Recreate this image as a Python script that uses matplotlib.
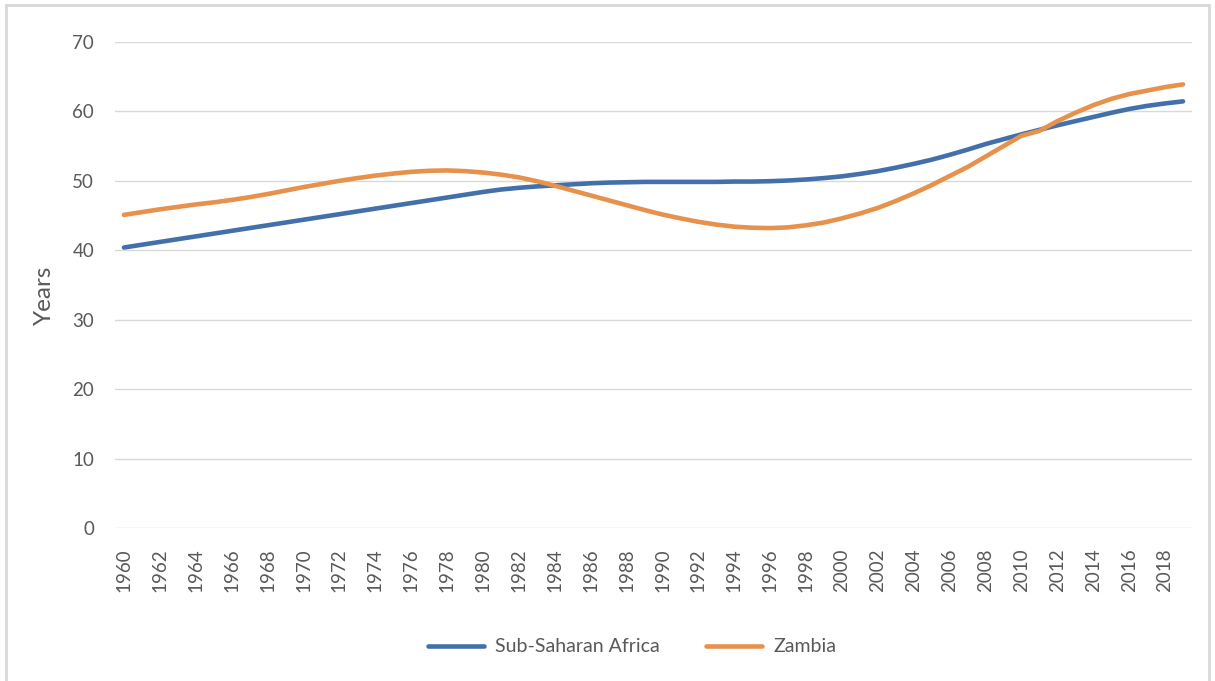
import matplotlib
matplotlib.use("Agg")
import matplotlib.pyplot as plt
from matplotlib.lines import Line2D

years = list(range(1960, 2020))

ssa = [40.4, 40.8, 41.2, 41.6, 42.0, 42.4, 42.8, 43.2, 43.6, 44.0,
       44.4, 44.8, 45.2, 45.6, 46.0, 46.4, 46.8, 47.2, 47.6, 48.0,
       48.4, 48.75, 49.0, 49.2, 49.35, 49.5, 49.65, 49.75, 49.8, 49.85,
       49.85, 49.85, 49.85, 49.85, 49.9, 49.9, 49.95, 50.05, 50.2, 50.4,
       50.65, 51.0, 51.4, 51.9, 52.45, 53.05, 53.75, 54.5, 55.3, 56.0,
       56.7, 57.35, 58.0, 58.6, 59.2, 59.8, 60.35, 60.8, 61.15, 61.45]

zambia = [45.1, 45.5, 45.9, 46.25, 46.6, 46.9, 47.25, 47.65, 48.1, 48.6,
          49.1, 49.55, 50.0, 50.4, 50.75, 51.05, 51.3, 51.45, 51.5, 51.4,
          51.2, 50.9, 50.5, 49.95, 49.3, 48.6, 47.9, 47.2, 46.5, 45.8,
          45.15, 44.6, 44.1, 43.7, 43.4, 43.25, 43.2, 43.3, 43.6, 44.0,
          44.6, 45.3, 46.1, 47.1, 48.2, 49.4, 50.7, 52.0, 53.5, 55.0,
          56.5, 57.2, 58.6, 59.8, 60.9, 61.8, 62.5, 63.0, 63.5, 63.9]

series_names = ["Sub-Saharan Africa", "Zambia"]
y_ticks = [0, 10, 20, 30, 40, 50, 60, 70]
x_tick_labels = [str(y) for y in years[::2]]

plt.rcParams['font.family'] = ['Lato', 'DejaVu Sans']
gray = '#595959'
grid = '#d9d9d9'

fig = plt.figure(figsize=(12.15, 6.81), dpi=100)
ax = fig.add_axes([115/1215, 1-528/681, (1192-115)/1215, (528-42)/681])

idx = list(range(len(years)))
ax.plot(idx, ssa, color='#4370AB', lw=3.3, solid_capstyle='round', label=series_names[0], zorder=3)
ax.plot(idx, zambia, color='#E6914C', lw=3.3, solid_capstyle='round', label=series_names[1], zorder=4)

ax.set_xlim(-0.5, len(years) - 0.5)
ax.set_ylim(0, 70)
ax.set_yticks(y_ticks)
ax.set_yticklabels([str(v) for v in y_ticks])
ax.set_xticks(idx[::2])
ax.set_xticklabels(x_tick_labels, rotation=90)
ax.tick_params(axis='both', length=0, labelsize=13.5, labelcolor=gray)
ax.tick_params(axis='y', pad=15)
ax.tick_params(axis='x', pad=15)
for s in ax.spines.values():
    s.set_visible(False)
ax.grid(axis='y', color=grid, lw=1.0)
ax.set_axisbelow(True)

fig.text(44/1215, 1-295/681, "Years", rotation=90, ha='center', va='center',
         fontsize=17.5, color=gray)

leg = fig.legend(loc='center', bbox_to_anchor=(0.52, 1-647/681), ncol=2, frameon=False,
                 fontsize=14, handlelength=2.9, columnspacing=2.4, handletextpad=0.55)
for t in leg.get_texts():
    t.set_color(gray)

# outer border
bc = '#d9d9d9'
fig.add_artist(Line2D([6/1215, 6/1215], [0, 1-5/681], transform=fig.transFigure, color=bc, lw=2))
fig.add_artist(Line2D([6/1215, 1209/1215], [1-5/681, 1-5/681], transform=fig.transFigure, color=bc, lw=2))
fig.add_artist(Line2D([1209/1215, 1209/1215], [0, 1-5/681], transform=fig.transFigure, color=bc, lw=2))

fig.savefig("out.png", dpi=100)
